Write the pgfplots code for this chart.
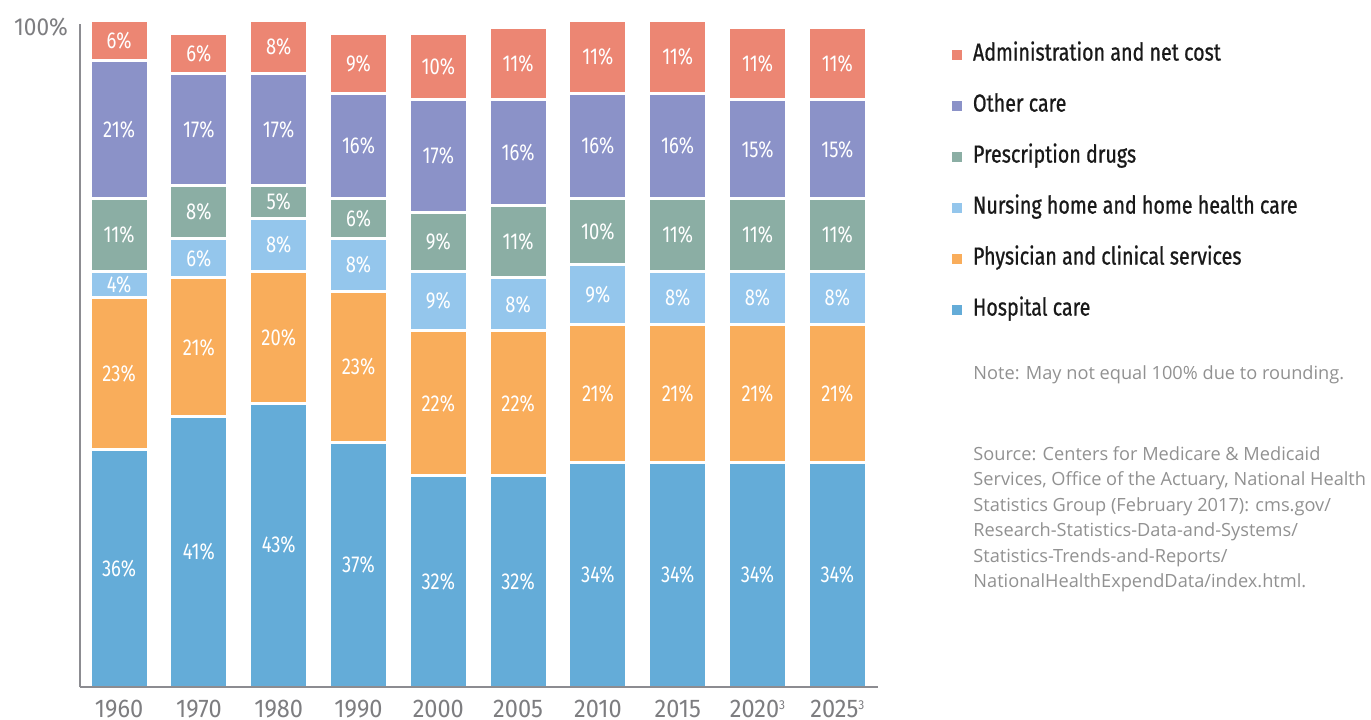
\documentclass[border=0pt]{standalone}
\usepackage{pgfplots}
\pgfplotsset{compat=1.18}
\usepackage{fontspec}
\setmainfont{Fira Sans}
\newfontfamily\cond[FakeStretch=0.8]{Fira Sans}
\newfontfamily\condt[FakeStretch=0.92]{Fira Sans}
\newfontfamily\condb[FakeStretch=0.8,FakeBold=0.8]{Fira Sans}
\newfontfamily\notefont{Open Sans}
\newcommand{\smallsup}{\raisebox{4.3pt}{\fontsize{6.5}{7}\selectfont 3}}
\definecolor{cAdm}{RGB}{236,134,115}
\definecolor{cOth}{RGB}{139,146,200}
\definecolor{cDrg}{RGB}{139,174,164}
\definecolor{cNur}{RGB}{148,198,236}
\definecolor{cPhy}{RGB}{249,173,91}
\definecolor{cHos}{RGB}{100,172,216}
\definecolor{axgray}{RGB}{140,140,145}
\definecolor{tgray}{RGB}{125,125,128}
\definecolor{ngray}{RGB}{145,145,145}
\definecolor{ltext}{RGB}{25,25,25}
\begin{document}
\begin{tikzpicture}
\useasboundingbox (-40pt,-16pt) rectangle (645.5pt,343.5pt);
\begin{axis}[
  at={(0,0)}, anchor=south west,
  scale only axis, width=399pt, height=331.5pt,
  xmin=-0.49, xmax=9.51, ymin=0, ymax=100.5,
  axis x line*=bottom, axis y line*=left,
  axis line style={draw=axgray, line width=1pt},
  ybar stacked, bar width=29pt,
  every axis plot/.append style={draw=white, line width=1.5pt},
  xtick={0,...,9},
  xticklabels={1960,1970,1980,1990,2000,2005,2010,2015,2020\smallsup,2025\smallsup},
  ytick={100}, yticklabels={100\%},
  major tick length=0pt,
  tick label style={font=\condt\fontsize{12.8}{15}\selectfont, text=tgray},
  xticklabel style={inner sep=0pt, text height=9.3pt, text depth=0pt, yshift=-5.8pt},
  yticklabel style={xshift=-2.5pt, font=\condt\fontsize{12.3}{15}\selectfont},
  clip=false, axis on top,
  /pgf/number format/assume math mode=true,
  visualization depends on=rawy \as \rawy,
  nodes near coords={\pgfmathprintnumber[fixed,precision=0]{\rawy}\%},
  every node near coord/.append style={anchor=center, text=white, font=\cond\fontsize{11.5}{13}\selectfont},
  reverse legend,
  legend image code/.code={\fill[#1,draw=none] (0pt,-2.5pt) rectangle (5pt,2.5pt);},
  legend cell align=left,
  legend style={at={(1.0927,0.978)}, anchor=north west, draw=none, fill=none, inner sep=0pt, outer sep=0pt,
    row sep=9.5pt, font=\condb\fontsize{12.3}{14}\selectfont, text=ltext,
    nodes={text height=9pt, text depth=3pt},
    /tikz/every odd column/.append style={column sep=3.5pt}},
]
\addplot[fill=cHos] coordinates {(0,36) (1,41) (2,43) (3,37) (4,32) (5,32) (6,34) (7,34) (8,34) (9,34)};
\addplot[fill=cPhy] coordinates {(0,23) (1,21) (2,20) (3,23) (4,22) (5,22) (6,21) (7,21) (8,21) (9,21)};
\addplot[fill=cNur] coordinates {(0,4) (1,6) (2,8) (3,8) (4,9) (5,8) (6,9) (7,8) (8,8) (9,8)};
\addplot[fill=cDrg] coordinates {(0,11) (1,8) (2,5) (3,6) (4,9) (5,11) (6,10) (7,11) (8,11) (9,11)};
\addplot[fill=cOth] coordinates {(0,21) (1,17) (2,17) (3,16) (4,17) (5,16) (6,16) (7,16) (8,15) (9,15)};
\addplot[fill=cAdm] coordinates {(0,6) (1,6) (2,8) (3,9) (4,10) (5,11) (6,11) (7,11) (8,11) (9,11)};
\legend{Hospital care, Physician and clinical services, Nursing home and home health care, Prescription drugs, Other care, Administration and net cost}
\end{axis}
\node[anchor=base west, inner sep=0pt, text=ngray, font=\notefont\fontsize{9.1}{11}\selectfont] at (446.5pt,153.85pt) {Note: May not equal 100\% due to rounding.};
\foreach \t [count=\i] in {Source: Centers for Medicare \& Medicaid, {Services, Office of the Actuary, National Health}, Statistics Group (February 2017): cms.gov/, Research-Statistics-Data-and-Systems/, Statistics-Trends-and-Reports/, NationalHealthExpendData/index.html.}
  \node[anchor=base west, inner sep=0pt, text=ngray, font=\notefont\fontsize{9.1}{11}\selectfont] at (446.5pt,{113.5pt-(\i-1)*12.75pt}) {\t};
\end{tikzpicture}
\end{document}
